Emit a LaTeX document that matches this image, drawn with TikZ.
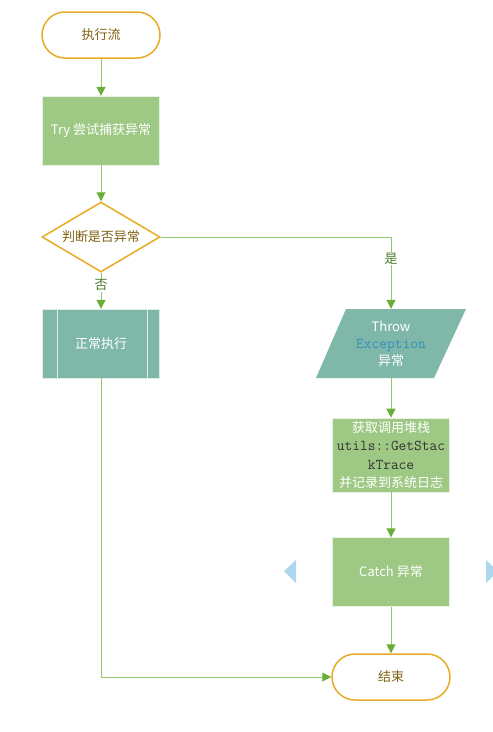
\documentclass[tikz,border=0pt]{standalone}
\usepackage{fontspec}
\setmainfont{Noto Sans CJK SC}
\usetikzlibrary{positioning,shapes.geometric,arrows.meta}
\definecolor{flowline}{RGB}{146,200,110}
\definecolor{flowtip}{RGB}{106,174,58}
\definecolor{boxgreen}{RGB}{158,201,132}
\definecolor{boxteal}{RGB}{127,184,168}
\definecolor{termline}{RGB}{232,171,35}
\definecolor{termtext}{RGB}{128,98,20}
\definecolor{codeblue}{RGB}{52,140,190}
\definecolor{navblue}{RGB}{172,215,236}
\tikzset{
  flow/.style={draw=flowline, line width=1pt, -{Triangle[length=9pt,width=9pt,color=flowtip]}},
  terminal/.style={draw=termline, line width=1.5pt, fill=white, rounded corners=23pt,
    minimum width=118pt, minimum height=46pt, text=termtext},
  decision/.style={diamond, draw=termline, line width=1.5pt, fill=white, inner sep=0pt,
    aspect=1.69, minimum width=118pt, minimum height=70pt, text=termtext},
  process/.style={fill=boxgreen, draw=white!75!boxgreen, minimum width=117pt,
    minimum height=69pt, text=white, align=center},
  predef/.style={fill=boxteal, draw=white!75!boxteal, minimum width=117pt,
    minimum height=69pt, text=white},
  answer/.style={fill=white, text=flowtip!70!black, inner sep=1pt}
}
\begin{document}
\begin{tikzpicture}[x=1pt,y=-1pt,font=\fontsize{13}{16}\selectfont]
        \useasboundingbox (0,0) rectangle (493,732);
        % nodes
        \node[terminal] (start) at (101,35) {执行流};
        \node[process] (try) at (101,130.5) {Try 尝试捕获异常};
        \node[decision] (judge) at (101,237) {判断是否异常};
        \node[predef] (normal) at (101,343.5) {正常执行};
        \draw[white!75!boxteal] (57,309) -- (57,378) (147,309) -- (147,378);
        \fill[boxteal] (346,309) -- (466,309) -- (434,378) -- (316,378) -- cycle;
        \node[align=center, text=white, minimum width=118pt, minimum height=69pt,
          inner sep=0pt] (throw) at (391,343.5)
          {Throw\\[1pt]{\ttfamily\fontsize{15}{16}\selectfont\color{codeblue}Exception}\\[1pt]异常};
        \node[process, font=\fontsize{13}{18.5}\selectfont] (trace) at (391,455)
          {获取调用堆栈\\{\ttfamily\fontsize{15}{18.5}\selectfont\color{black!80}utils::GetStac}\\
           {\ttfamily\fontsize{15}{18.5}\selectfont\color{black!80}kTrace}\\并记录到系统日志};
        \node[process] (catch) at (391,572) {Catch 异常};
        \node[terminal] (end) at (391,677) {结束};
        % side markers
        \fill[navblue] (284,571) -- (296,560) -- (296,583) -- cycle;
        \fill[navblue] (486,560) -- (498,571) -- (486,583) -- cycle;
        % connectors
        \draw[flow] (start) -- (try);
        \draw[flow] (try) -- (judge);
        \draw[flow] (judge) -- node[answer, pos=0.35] {否} (normal);
        \draw[flow] (judge.east) -| node[answer, pos=0.65] {是} (throw.north);
        \draw[flow] (throw) -- (trace);
        \draw[flow] (trace) -- (catch);
        \draw[flow] (catch) -- (end);
        \draw[flow] (normal.south) |- (end.west);
\end{tikzpicture}
\end{document}
